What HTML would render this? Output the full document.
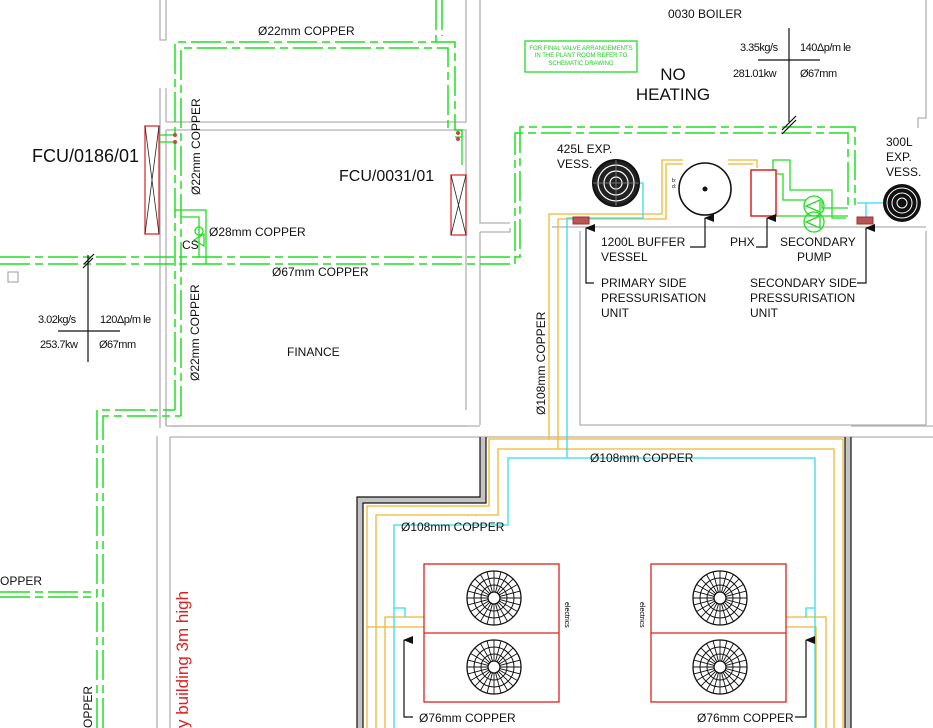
<!DOCTYPE html>
<html><head><meta charset="utf-8"><style>
html,body{margin:0;padding:0;background:#fff;}
svg{display:block;font-family:"Liberation Sans",sans-serif;}
</style></head><body>
<svg width="933" height="728" viewBox="0 0 933 728" xmlns="http://www.w3.org/2000/svg">
<defs>
<g id="fan">
<circle r="27" fill="none" stroke="#111" stroke-width="1.3"/>
<circle r="20" fill="none" stroke="#111" stroke-width="1"/>
<circle r="13" fill="none" stroke="#111" stroke-width="1"/>
<circle r="6" fill="#fff" stroke="#111" stroke-width="1.3"/>
<g stroke="#111" stroke-width="0.9">
<line x1="6" y1="0" x2="27" y2="0"/><line x1="6" y1="0" x2="27" y2="0" transform="rotate(15)"/>
<line x1="6" y1="0" x2="27" y2="0" transform="rotate(30)"/><line x1="6" y1="0" x2="27" y2="0" transform="rotate(45)"/>
<line x1="6" y1="0" x2="27" y2="0" transform="rotate(60)"/><line x1="6" y1="0" x2="27" y2="0" transform="rotate(75)"/>
<line x1="6" y1="0" x2="27" y2="0" transform="rotate(90)"/><line x1="6" y1="0" x2="27" y2="0" transform="rotate(105)"/>
<line x1="6" y1="0" x2="27" y2="0" transform="rotate(120)"/><line x1="6" y1="0" x2="27" y2="0" transform="rotate(135)"/>
<line x1="6" y1="0" x2="27" y2="0" transform="rotate(150)"/><line x1="6" y1="0" x2="27" y2="0" transform="rotate(165)"/>
<line x1="6" y1="0" x2="27" y2="0" transform="rotate(180)"/><line x1="6" y1="0" x2="27" y2="0" transform="rotate(195)"/>
<line x1="6" y1="0" x2="27" y2="0" transform="rotate(210)"/><line x1="6" y1="0" x2="27" y2="0" transform="rotate(225)"/>
<line x1="6" y1="0" x2="27" y2="0" transform="rotate(240)"/><line x1="6" y1="0" x2="27" y2="0" transform="rotate(255)"/>
<line x1="6" y1="0" x2="27" y2="0" transform="rotate(270)"/><line x1="6" y1="0" x2="27" y2="0" transform="rotate(285)"/>
<line x1="6" y1="0" x2="27" y2="0" transform="rotate(300)"/><line x1="6" y1="0" x2="27" y2="0" transform="rotate(315)"/>
<line x1="6" y1="0" x2="27" y2="0" transform="rotate(330)"/><line x1="6" y1="0" x2="27" y2="0" transform="rotate(345)"/>
</g></g>
<marker id="ar" markerWidth="8" markerHeight="10" refX="4" refY="1" orient="auto-start-reverse" markerUnits="userSpaceOnUse"><path d="M0,10 L4,0 L8,10 Z" fill="#111"/></marker>
</defs>

<!-- walls -->
<g fill="none" stroke="#b0b0b0" stroke-width="1.3">
<path d="M160,0 V40 H166 V0"/>
<path d="M160,88 V312"/><path d="M166,88 V122"/>
<path d="M166,122 H466 V0"/><path d="M166,130 H466 V410"/>
<path d="M166,130 V312"/>
<path d="M160,312 V428"/><path d="M166,312 V426"/>
<path d="M166,426 H466"/><path d="M166,408 V426"/>
<path d="M157,436 V728"/><path d="M170,437 V728"/>
<path d="M170,437 H480"/><path d="M170,426 H480"/>
<path d="M480,0 V223 H510"/><path d="M480,232 H510 V228"/>
<path d="M552,227 H926"/><path d="M580,231 V425 H926"/>
<path d="M480,232 V425"/><path d="M926,0 V118 H918 V128"/><path d="M926,231 V425"/>
<path d="M480,437 H933"/><path d="M851,426 H933"/>
<rect x="8" y="272" width="10" height="10"/>
</g>

<!-- enclosure wall -->
<path d="M360,728 V500 H483 V437" fill="none" stroke="#c4c4c4" stroke-width="6"/>
<path d="M357,728 V497 H480 V437 M363,728 V503 H486 V437" fill="none" stroke="#111" stroke-width="1.2"/>
<path d="M848,437 V728" fill="none" stroke="#c4c4c4" stroke-width="6"/>
<path d="M845,437 V728 M851,437 V728" fill="none" stroke="#111" stroke-width="1.2"/>

<!-- green pipes -->
<g fill="none" stroke="#22dd22" stroke-width="1.5" stroke-dasharray="30 5 8 5">
<path d="M175,410 V42 H455 V130 H462 V140"/>
<path d="M181,416 V48 H448 V130"/>
<path d="M436,0 V42"/><path d="M442,0 V36"/>
<path d="M0,257 H520 V127 H855 V205"/>
<path d="M0,264 H515 V133 H848 V210"/>
<path d="M97,728 V410 H175"/><path d="M103,728 V416 H181"/>
<path d="M0,592 H97"/><path d="M0,597 H97"/>
</g>
<g fill="none" stroke="#22dd22" stroke-width="1.3">
<path d="M175,210 H206 V264"/><path d="M181,217 H199 V257"/>
<path d="M160,135 H175 M160,142 H175"/>
<path d="M455,137 H462 V165"/>
<path d="M776,170 H773 V160 H790 V190 H832 V218 H846"/>
<path d="M776,174 H783 V200 H806 M822,200 V208 H848"/>
<path d="M776,216 H848"/>
<circle cx="814" cy="206" r="10"/><circle cx="814" cy="222" r="10"/>
<path d="M806,206 L820,200 V212 Z M806,222 L820,216 V228 Z"/>
<rect x="525" y="41" width="112" height="31"/>
<path d="M194,240 L204,234 V246 Z M194,240 L204,246"/><circle cx="199" cy="231" r="4"/>
</g>
<g fill="#c44"><circle cx="175" cy="135" r="2"/><circle cx="175" cy="142" r="2"/><circle cx="458" cy="133" r="2"/><circle cx="458" cy="139" r="2"/></g>
<text x="581" y="50" font-size="6" fill="#22cc22" text-anchor="middle">FOR FINAL VALVE ARRANGEMENTS</text>
<text x="581" y="57" font-size="6" fill="#22cc22" text-anchor="middle">IN THE PLANT ROOM REFER TO</text>
<text x="581" y="65" font-size="6" fill="#22cc22" text-anchor="middle">SCHEMATIC DRAWING</text>

<!-- yellow / cyan -->
<g fill="none" stroke="#f2b830" stroke-width="1.3">
<path d="M549,439 V214 H662 V160 H683"/>
<path d="M558,449 V219 H666 V164 H683"/>
<path d="M728,160 H757 V168 M728,164 H753"/>
<path d="M367,728 V506 H489 V439 H843 V728"/>
<path d="M376,728 V515 H498 V449 H834 V728"/>
<path d="M385,728 V617 H424 M367,627 H424"/>
<path d="M786,617 H826 V728 M786,627 H816 V728"/>
</g>
<g fill="none" stroke="#33ddee" stroke-width="1.3">
<path d="M567,458 V218 H643 V183 H620"/>
<path d="M394,728 V525 H508 V458 H815 V728"/>
<path d="M394,608 H405 V617"/><path d="M815,608 H806 V617"/>
<path d="M857,203 H900 M866,203 V217"/>
</g>

<!-- plant equipment -->
<circle cx="616" cy="183" r="23" fill="#222" stroke="#111" stroke-width="2"/>
<circle cx="616" cy="183" r="18" fill="none" stroke="#fff" stroke-width="1.2"/>
<circle cx="616" cy="183" r="12" fill="none" stroke="#fff" stroke-width="1.2"/>
<circle cx="616" cy="183" r="6" fill="none" stroke="#fff" stroke-width="1.2"/>
<path d="M593,183 H639 M616,160 V206" stroke="#888" stroke-width="0.8"/>
<circle cx="705" cy="189" r="26" fill="none" stroke="#111" stroke-width="1.6"/>
<circle cx="705" cy="189" r="2.5" fill="#111"/>
<text x="672" y="182" font-size="5">b:</text><text x="672" y="188" font-size="5">d:</text>
<rect x="751" y="170" width="25" height="46" fill="none" stroke="#e02020" stroke-width="1.5"/>
<circle cx="902" cy="203" r="19" fill="#111"/>
<circle cx="902" cy="203" r="15" fill="none" stroke="#fff" stroke-width="1"/>
<circle cx="902" cy="203" r="10" fill="none" stroke="#fff" stroke-width="1"/>
<circle cx="902" cy="203" r="5" fill="none" stroke="#fff" stroke-width="1"/>
<rect x="573" y="217" width="16" height="7" fill="#b55" stroke="#933"/>
<rect x="857" y="217" width="16" height="7" fill="#b55" stroke="#933"/>

<!-- leaders -->
<g fill="none" stroke="#111" stroke-width="1.2">
<path d="M586,228 V283 H594" marker-start="url(#ar)"/>
<path d="M705,218 V247 H690" marker-start="url(#ar)"/>
<path d="M767,218 V247 H756" marker-start="url(#ar)"/>
<path d="M866,228 V283 H857" marker-start="url(#ar)"/>
<path d="M404,640 V717 H413" marker-start="url(#ar)"/>
<path d="M806,640 V717 H795" marker-start="url(#ar)"/>
<path d="M88,255 V362 M58,331 H120 M83,268 L93,258 M84,264 L94,254"/>
<path d="M789,28 V122 M758,60 H820 M782,134 L796,120 M782,130 L796,116"/>
</g>

<!-- FCUs -->
<rect x="145" y="126" width="14" height="108" fill="none" stroke="#e03030" stroke-width="1.3"/>
<path d="M145,126 L159,234 M159,126 L145,234" stroke="#222" stroke-width="0.8"/>
<rect x="451" y="175" width="15" height="60" fill="none" stroke="#e03030" stroke-width="1.3"/>
<path d="M451,175 L466,235 M466,175 L451,235" stroke="#222" stroke-width="0.8"/>

<!-- outdoor units -->
<g fill="none" stroke="#e02020" stroke-width="1.3">
<rect x="424" y="564" width="135" height="138"/><path d="M424,633 H559"/>
<rect x="651" y="564" width="135" height="138"/><path d="M651,633 H786"/>
</g>
<use href="#fan" x="494" y="598"/><use href="#fan" x="494" y="667"/>
<use href="#fan" x="720" y="598"/><use href="#fan" x="720" y="667"/>
<text transform="translate(565,602) rotate(90)" font-size="7">electrics</text>
<text transform="translate(640,602) rotate(90)" font-size="7">electrics</text>

<!-- text -->
<g fill="#111" font-size="12">
<text x="258" y="35">Ø22mm COPPER</text>
<text x="32" y="162" font-size="18">FCU/0186/01</text>
<text x="339" y="181" font-size="16">FCU/0031/01</text>
<text transform="translate(200,195) rotate(-90)">Ø22mm COPPER</text>
<text transform="translate(199,381) rotate(-90)">Ø22mm COPPER</text>
<text x="209" y="236">Ø28mm COPPER</text>
<text x="182" y="249">CS</text>
<text x="272" y="276">Ø67mm COPPER</text>
<text x="287" y="356">FINANCE</text>
<text x="38" y="323" font-size="11" letter-spacing="-0.5">3.02kg/s</text>
<text x="100" y="323" font-size="11" letter-spacing="-0.5">120Δp/m le</text>
<text x="40" y="348" font-size="11" letter-spacing="-0.5">253.7kw</text>
<text x="99" y="348" font-size="11" letter-spacing="-0.5">Ø67mm</text>
<text x="740" y="51" font-size="11" letter-spacing="-0.5">3.35kg/s</text>
<text x="800" y="51" font-size="11" letter-spacing="-0.5">140Δp/m le</text>
<text x="733" y="77" font-size="11" letter-spacing="-0.5">281.01kw</text>
<text x="800" y="77" font-size="11" letter-spacing="-0.5">Ø67mm</text>
<text x="668" y="18">0030 BOILER</text>
<text x="673" y="80" font-size="17" text-anchor="middle">NO</text>
<text x="673" y="100" font-size="17" text-anchor="middle">HEATING</text>
<text x="557" y="153">425L EXP.</text><text x="557" y="168">VESS.</text>
<text x="886" y="146">300L</text><text x="886" y="161">EXP.</text><text x="886" y="176">VESS.</text>
<text x="601" y="246">1200L BUFFER</text><text x="601" y="261">VESSEL</text>
<text x="730" y="246">PHX</text>
<text x="780" y="246">SECONDARY</text><text x="797" y="261">PUMP</text>
<text x="601" y="287">PRIMARY SIDE</text><text x="601" y="302">PRESSURISATION</text><text x="601" y="317">UNIT</text>
<text x="750" y="287">SECONDARY SIDE</text><text x="750" y="302">PRESSURISATION</text><text x="750" y="317">UNIT</text>
<text transform="translate(545,415) rotate(-90)">Ø108mm COPPER</text>
<text x="590" y="462">Ø108mm COPPER</text>
<text x="401" y="531">Ø108mm COPPER</text>
<text x="419" y="722">Ø76mm COPPER</text>
<text x="697" y="722">Ø76mm COPPER</text>
<text x="0" y="585">OPPER</text>
<text transform="translate(92,728) rotate(-90)">OPPER</text>
<text transform="translate(188,728) rotate(-90)" font-size="17" fill="#e02020">y building 3m high</text>
</g>
</svg>
</body></html>
